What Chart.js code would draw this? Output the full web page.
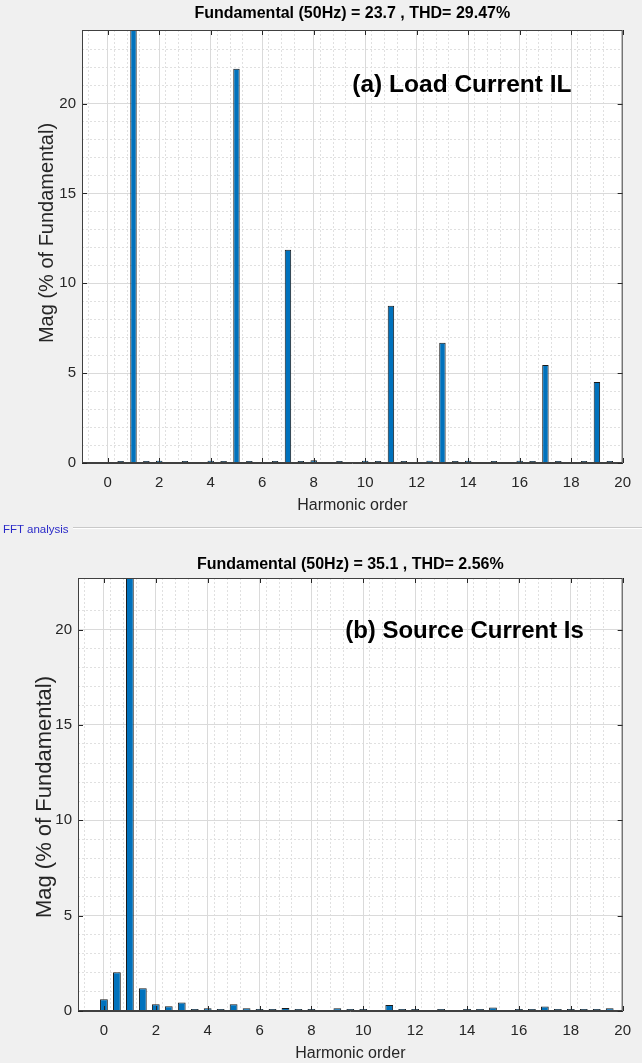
<!DOCTYPE html>
<html>
<head>
<meta charset="utf-8">
<script src="https://cdn.jsdelivr.net/npm/chart.js@4.4.1/dist/chart.umd.min.js"></script>
<style>
  html, body { margin: 0; padding: 0; background: #f0f0f0; }
  body { width: 642px; height: 1063px; position: relative; overflow: hidden; font-family: "Liberation Sans", Arial, sans-serif; }
  .panel { position: absolute; left: 0; width: 642px; }
  #panelA { top: 0; height: 525px; }
  #panelB { top: 540px; height: 523px; }
  #fftLabel { position: absolute; left: 3px; top: 522px; font-size: 11.5px; line-height: 14px; color: #2a2ac8; }
  #fftRule { position: absolute; left: 73px; right: 0; top: 527px; border-top: 1px solid #c9c9c9; border-bottom: 1px solid #ffffff; }
</style>
</head>
<body>
<div class="panel" id="panelA"><canvas id="chartA"></canvas></div>
<div id="fftLabel">FFT analysis</div>
<div id="fftRule"></div>
<div class="panel" id="panelB"><canvas id="chartB"></canvas></div>
<script>
// harmonic order of each bar (steps of 0.5)
const harmonicOrder = [0, 0.5, 1, 1.5, 2, 2.5, 3, 3.5, 4, 4.5, 5, 5.5, 6, 6.5, 7, 7.5, 8, 8.5, 9, 9.5,
                       10, 10.5, 11, 11.5, 12, 12.5, 13, 13.5, 14, 14.5, 15, 15.5, 16, 16.5, 17, 17.5, 18, 18.5, 19, 19.5];
// (a) load current IL, % of fundamental (null = no visible bar)
const loadCurrentMag = [null, 0.07, 100, 0.05, 0.13, null, 0.05, null, 0.13, 0.07, 21.95, 0.07, null, 0.07, 11.87, 0.07, 0.15, null, 0.07, null,
                        0.13, 0.07, 8.75, 0.07, null, 0.13, 6.69, 0.07, 0.13, null, 0.07, null, 0.13, 0.07, 5.46, 0.07, null, 0.07, 4.51, 0.07];
// (b) source current Is, % of fundamental
const sourceCurrentMag = [0.61, 2.03, 100, 1.19, 0.35, 0.25, 0.45, 0.09, 0.14, 0.09, 0.35, 0.14, 0.09, 0.09, 0.16, 0.05, 0.1, null, 0.14, 0.1,
                          0.05, null, 0.31, 0.05, 0.05, null, 0.05, null, 0.05, 0.05, 0.19, null, 0.05, 0.09, 0.24, 0.05, 0.1, 0.05, 0.05, 0.14];

const titleA = 'Fundamental (50Hz) = 23.7 , THD= 29.47%';
const titleB = 'Fundamental (50Hz) = 35.1 , THD= 2.56%';
const xLabel = 'Harmonic order';
const yLabel = 'Mag (% of Fundamental)';

const FONT = '"Liberation Sans", Arial, sans-serif';
const INK = '#262626';

function makeChart(canvasId, values, cfg) {
    const decor = {
        id: 'matlabDecor',
        beforeDraw(chart) {
            const { ctx, chartArea: a } = chart;
            ctx.save();
            ctx.fillStyle = '#ffffff';
            ctx.fillRect(a.left, a.top, a.right - a.left, a.bottom - a.top);
            ctx.restore();
        },
        afterDraw(chart) {
            const { ctx, chartArea: a, scales } = chart;
            ctx.save();
            // inward tick marks, like matlab
            ctx.strokeStyle = INK;
            ctx.lineWidth = 1;
            ctx.beginPath();
            scales.x.ticks.forEach(t => {
                const px = Math.round(scales.x.getPixelForValue(t.value)) + 0.5;
                ctx.moveTo(px, a.bottom); ctx.lineTo(px, a.bottom - 5);
                ctx.moveTo(px, a.top); ctx.lineTo(px, a.top + 5);
            });
            scales.y.ticks.forEach(t => {
                const py = Math.round(scales.y.getPixelForValue(t.value)) + 0.5;
                ctx.moveTo(a.left, py); ctx.lineTo(a.left + 5, py);
                ctx.moveTo(a.right, py); ctx.lineTo(a.right - 5, py);
            });
            ctx.stroke();
            ctx.strokeStyle = '#404040';
            ctx.strokeRect(a.left + 0.5, a.top + 0.5, a.right - a.left - 1, a.bottom - a.top - 1);

            ctx.fillStyle = '#000';
            ctx.textBaseline = 'middle';
            ctx.textAlign = 'center';
            ctx.font = 'bold 16px ' + FONT;
            ctx.fillText(cfg.title, (a.left + a.right) / 2, cfg.titleY);

            ctx.textAlign = 'left';
            ctx.font = 'bold ' + cfg.noteSize + 'px ' + FONT;
            ctx.fillText(cfg.note, scales.x.getPixelForValue(cfg.noteAt[0]), scales.y.getPixelForValue(cfg.noteAt[1]));

            // y axis title, placed by hand
            ctx.translate(cfg.yTitleAt[0], cfg.yTitleAt[1]);
            ctx.rotate(-Math.PI / 2);
            ctx.textAlign = 'center';
            ctx.fillStyle = INK;
            ctx.font = cfg.yTitleSize + 'px ' + FONT;
            ctx.fillText(yLabel, 0, 0);
            ctx.restore();
        }
    };

    return new Chart(document.getElementById(canvasId), {
        type: 'bar',
        data: {
            datasets: [{
                data: harmonicOrder.map((h, i) => ({ x: h, y: values[i] })),
                backgroundColor: '#0072BD',
                borderColor: '#1a1a1a',
                borderWidth: 1,
                barPercentage: cfg.barPct,
                categoryPercentage: 1,
                minBarLength: 2,
                clip: 0
            }]
        },
        options: {
            responsive: true,
            maintainAspectRatio: false,
            animation: false,
            layout: { padding: { top: cfg.padTop, right: cfg.padRight, left: 0, bottom: 0 } },
            plugins: { legend: { display: false }, tooltip: { enabled: false } },
            scales: {
                xMinor: {
                    type: 'linear', position: 'bottom', min: -1, max: 20, offset: false,
                    ticks: { display: false, stepSize: 0.5, maxTicksLimit: 100 },
                    grid: { drawTicks: false, color: c => (c.tick && c.tick.value % 2 === 0 ? 'rgba(0,0,0,0)' : '#e0e0e0') },
                    border: { display: false, dash: [2, 2] },
                    afterFit: s => { s.height = 0; }
                },
                yMinor: {
                    type: 'linear', position: 'left', min: 0, max: cfg.ymax,
                    ticks: { display: false, stepSize: 1, maxTicksLimit: 100 },
                    grid: { drawTicks: false, color: c => (c.tick && c.tick.value % 5 === 0 ? 'rgba(0,0,0,0)' : '#e0e0e0') },
                    border: { display: false, dash: [2, 2] },
                    afterFit: s => { s.width = 0; }
                },
                x: {
                    type: 'linear', min: -1, max: 20, offset: false,
                    ticks: { stepSize: 2, includeBounds: false, padding: 11, color: INK, font: { family: FONT, size: 15 } },
                    grid: { color: '#dadada', drawTicks: false, offset: false },
                    border: { color: '#404040' },
                    title: { display: true, text: xLabel, color: INK, font: { family: FONT, size: 16 }, padding: { top: 0, bottom: cfg.xTitlePad } },
                    afterFit: s => { s.height = cfg.xHeight; }
                },
                y: {
                    min: 0, max: cfg.ymax,
                    ticks: { stepSize: 5, includeBounds: false, padding: 6, color: INK, font: { family: FONT, size: 15 } },
                    grid: { color: '#dadada', drawTicks: false },
                    border: { color: '#404040' },
                    afterFit: s => { s.width = cfg.yWidth; }
                }
            }
        },
        plugins: [decor]
    });
}

makeChart('chartA', loadCurrentMag, {
    title: titleA, titleY: 14, note: '(a) Load Current IL', noteAt: [9.5, 21], noteSize: 24.5,
    ymax: 24.1, padTop: 30, padRight: 14, yWidth: 82, xHeight: 62, xTitlePad: 10,
    yTitleSize: 20, yTitleAt: [47, 233], barPct: 0.5
});
makeChart('chartB', sourceCurrentMag, {
    title: titleB, titleY: 25, note: '(b) Source Current Is', noteAt: [9.3, 19.9], noteSize: 24,
    ymax: 22.7, padTop: 38, padRight: 19, yWidth: 78, xHeight: 52, xTitlePad: 0,
    yTitleSize: 22, yTitleAt: [45, 257], barPct: 0.6
});
</script>
</body>
</html>
